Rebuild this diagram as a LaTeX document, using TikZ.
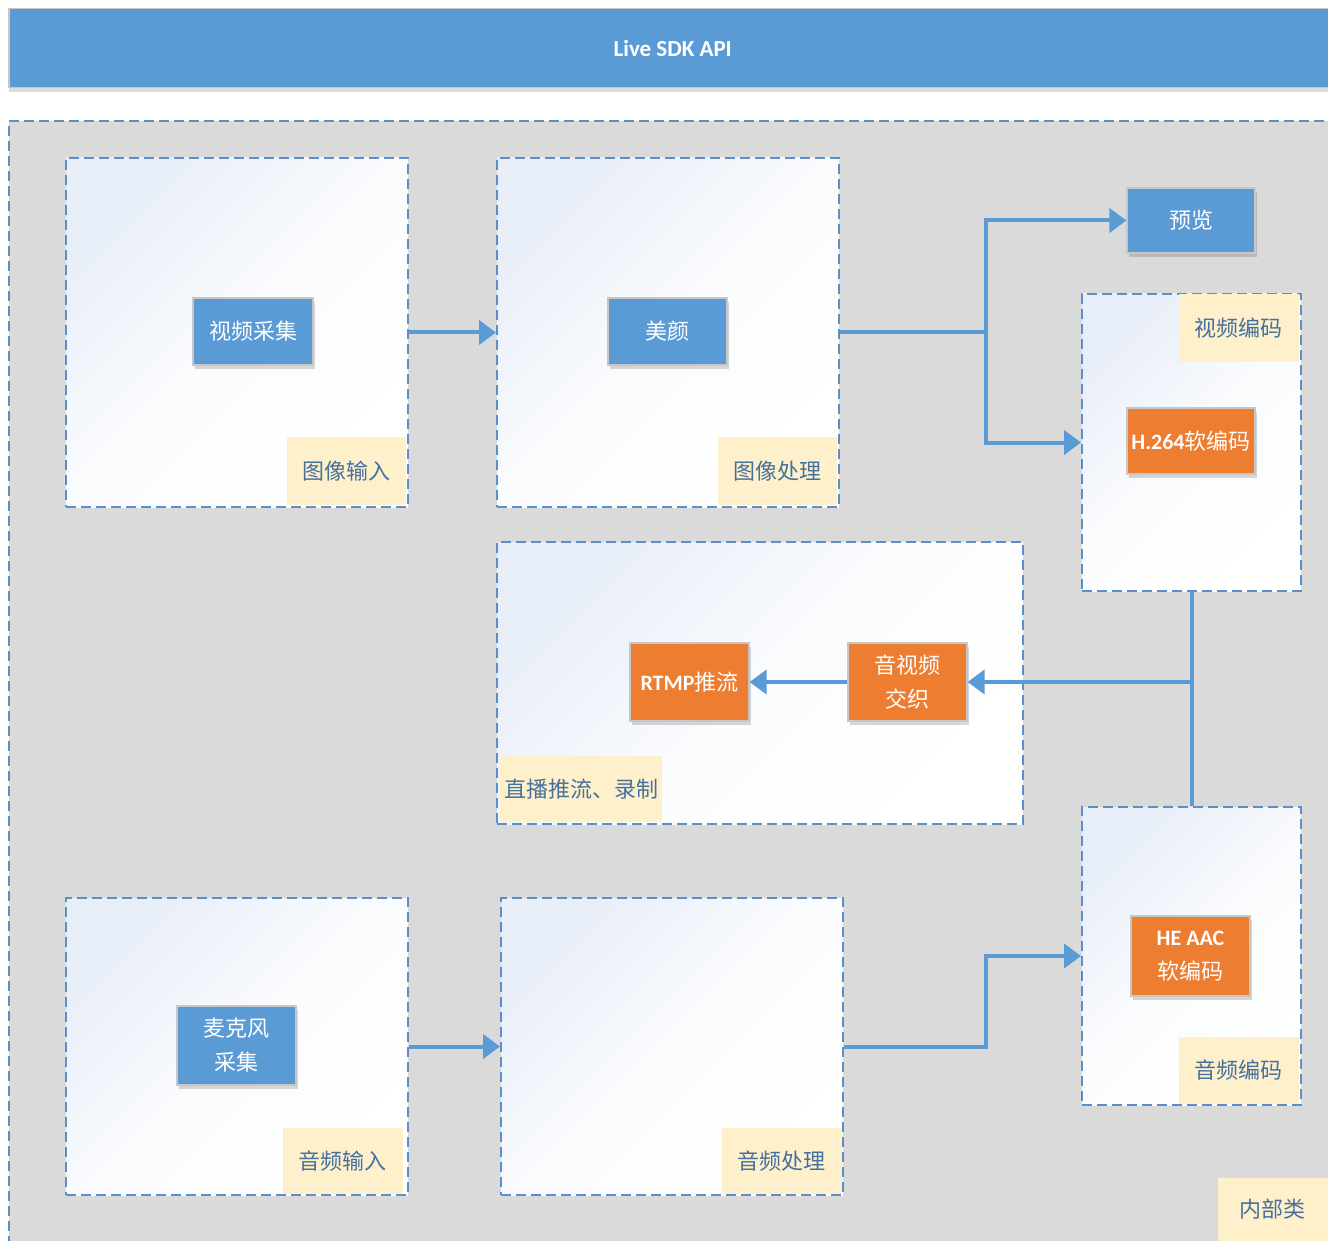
\documentclass[tikz,border=0pt]{standalone}
\usepackage{fontspec}
\setmainfont{Noto Sans CJK SC}
\newfontfamily\lat{Carlito}
\usetikzlibrary{shadows,arrows.meta}
\definecolor{barblue}{RGB}{91,155,213}
\definecolor{dashblue}{RGB}{91,143,200}
\definecolor{bggray}{RGB}{218,218,218}
\definecolor{boxtop}{RGB}{232,238,248}
\definecolor{cream}{RGB}{255,240,204}
\definecolor{labtext}{RGB}{68,113,158}
\definecolor{orangeF}{RGB}{237,125,49}
\begin{document}
\begin{tikzpicture}[x=1pt,y=-1pt,
  container/.style={draw=dashblue, dash pattern=on 10pt off 5pt, line width=2pt,
    top color=boxtop, bottom color=white, middle color=boxtop!20!white, shading angle=45,
    inner sep=0, anchor=north west},
  proc/.style={draw=black!22, line width=1.2pt, fill=barblue, text=white, inner sep=0,
    minimum width=120pt, minimum height=67pt, align=center,
    font=\fontsize{22}{34}\selectfont,
    drop shadow={shadow xshift=1.5pt, shadow yshift=-4pt, opacity=0.22, fill=black!70}},
  hot/.style={proc, fill=orangeF},
  tag/.style={fill=cream, text=labtext, inner sep=0, minimum width=119pt, minimum height=68pt,
    font=\fontsize{22}{26}\selectfont},
  arr/.style={draw=barblue, line width=4pt, -{Triangle[length=17pt,width=24pt]}},
  plain/.style={draw=barblue, line width=4pt},
]
\useasboundingbox (0,0) rectangle (1328,1241);
\fill[white] (0,0) rectangle (1328,1241);
% top bar
\node[draw=black!22, line width=1.5pt, fill=barblue, text=white, inner sep=0,
  minimum width=1328pt, minimum height=79pt, anchor=north west,
  drop shadow={shadow xshift=0pt, shadow yshift=-4pt, opacity=0.2, fill=black!70},
  font=\lat\bfseries\fontsize{23}{26}\selectfont] (api) at (8,8) {Live SDK API};
% background area
\node[draw=dashblue, dash pattern=on 10pt off 5pt, line width=2pt, fill=bggray,
  inner sep=0, minimum width=1340pt, minimum height=1140pt, anchor=north west] (inner) at (8,120) {};
% containers
\node[container, minimum width=342pt, minimum height=349pt] (boxA) at (65,157) {};
\node[container, minimum width=342pt, minimum height=349pt] (boxB) at (496,157) {};
\node[container, minimum width=219pt, minimum height=297pt] (boxE) at (1081,293) {};
\node[container, minimum width=526pt, minimum height=282pt] (boxD) at (496,541) {};
\node[container, minimum width=219pt, minimum height=298pt] (boxF) at (1081,806) {};
\node[container, minimum width=342pt, minimum height=297pt] (boxG) at (65,897) {};
\node[container, minimum width=342pt, minimum height=297pt] (boxH) at (500,897) {};
% tags
\node[tag, anchor=south east] (tagA) at (406,505) {图像输入};
\node[tag, anchor=south east] (tagB) at (837,505) {图像处理};
\node[tag, anchor=north east, minimum width=120pt] (tagE) at (1299,294) {视频编码};
\node[tag, anchor=south west, minimum width=162pt, minimum height=66pt] (tagD) at (500,822) {直播推流、录制};
\node[tag, anchor=south east, minimum width=120pt, minimum height=67pt] (tagF) at (1299,1104) {音频编码};
\node[tag, anchor=south east, minimum width=120pt, minimum height=66pt] (tagG) at (403,1194) {音频输入};
\node[tag, anchor=south east, minimum width=120pt, minimum height=66pt] (tagH) at (842,1194) {音频处理};
\node[tag, anchor=south east, minimum width=110pt, minimum height=63pt] (tagI) at (1328,1241) {内部类};
% process nodes
\node[proc] (cap) at (253,331.5) {视频采集};
\node[proc, minimum width=119pt] (beauty) at (667.5,331.5) {美颜};
\node[proc, minimum width=128pt, minimum height=65pt] (preview) at (1191,220.5) {预览};
\node[hot, minimum width=128pt, minimum height=66pt] (h264) at (1191,441) {{\lat\bfseries H.264}软编码};
\node[hot, minimum width=119pt, minimum height=78pt] (rtmp) at (689.5,682) {{\lat\bfseries RTMP}推流};
\node[hot, minimum width=119pt, minimum height=78pt] (mux) at (907.5,682) {音视频\\交织};
\node[hot, minimum width=119pt, minimum height=80pt] (aac) at (1190.5,956) {{\lat\bfseries HE AAC}\\软编码};
\node[proc, minimum width=119pt, minimum height=79pt] (mic) at (236.5,1045.5) {麦克风\\采集};
% connectors
\draw[arr] (boxA.east) -- (boxB.west);
\draw[arr] (boxB.east) -- ++(146,0) |- (preview.west);
\draw[arr] (boxB.east) -- ++(146,0) |- (boxE.west);
\draw[plain] (boxE.south) -- (boxF.north);
\draw[arr] (boxE.south |- mux.east) -- (mux.east);
\draw[arr] (mux.west) -- (rtmp.east);
\draw[arr] (boxG.east) -- (boxH.west);
\draw[arr] (boxH.east) -- ++(142,0) |- (boxF.west);
\end{tikzpicture}
\end{document}
